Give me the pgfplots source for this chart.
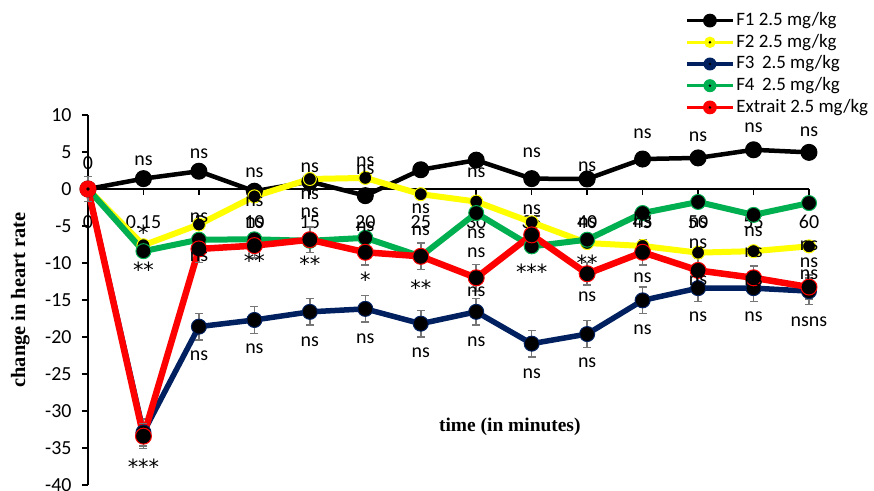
\documentclass[border=0pt]{standalone}
\usepackage{fontspec}
\setmainfont{Carlito}
\newfontfamily\tnr{Liberation Serif}
\newfontfamily\dvs{DejaVu Sans}
\usepackage{pgfplots}
\usepackage{pgfplotstable}
\pgfplotsset{compat=1.18}
\definecolor{cyel}{RGB}{255,255,0}
\definecolor{cnavy}{RGB}{0,32,96}
\definecolor{cgreen}{RGB}{0,176,80}
\definecolor{cred}{RGB}{255,0,0}
\definecolor{cerr}{RGB}{118,118,118}

\pgfdeclareplotmark{dotcircle}{%
  \pgfpathcircle{\pgfpointorigin}{\pgfplotmarksize}%
  \pgfusepathqfillstroke
  \pgfsetfillcolor{black}%
  \pgfpathcircle{\pgfpointorigin}{1.8bp}%
  \pgfusepathqfill
}

\pgfplotstableread{
x y e
0 0 1.7
1 1.4 0
2 2.4 0
3 -0.3 0
4 1.0 0
5 -0.9 0
6 2.6 0
7 3.9 0
8 1.4 0
9 1.35 0
10 4.05 0
11 4.2 0
12 5.3 0
13 4.95 0
}\fone

\pgfplotstableread{
x y
0 0
1 -7.6
2 -4.8
3 -1.0
4 1.35
5 1.5
6 -0.7
7 -1.7
8 -4.5
9 -7.3
10 -7.7
11 -8.6
12 -8.4
13 -7.75
}\ftwo

\pgfplotstableread{
x y e
0 0 1.7
1 -32.9 1.8
2 -18.6 1.8
3 -17.7 1.8
4 -16.6 1.8
5 -16.2 1.8
6 -18.2 1.8
7 -16.6 1.8
8 -20.9 1.8
9 -19.6 1.8
10 -15.05 1.8
11 -13.4 1.8
12 -13.4 1.8
13 -13.8 1.8
}\fthree

\pgfplotstableread{
x y
0 0
1 -8.4
2 -6.85
3 -6.8
4 -7.0
5 -6.6
6 -9.1
7 -3.25
8 -7.75
9 -6.85
10 -3.25
11 -1.75
12 -3.5
13 -1.9
}\ffour

\pgfplotstableread{
x y e
0 0 1.7
1 -33.4 1.7
2 -8.1 1.8
3 -7.65 1.7
4 -6.85 1.7
5 -8.55 1.7
6 -9.1 1.8
7 -12.0 1.8
8 -6.2 1.7
9 -11.45 1.5
10 -8.55 1.7
11 -11.0 1.6
12 -12.0 1.6
13 -13.25 1.6
}\fext

\pgfplotstableread{
x y lab
0 3.55 0
1 3.8 ns
2 4.8 ns
3 2.2 ns
3 -1.7 ns
3 -4.5 ns
4 2.9 ns
4 -0.8 ns
4 -3.2 ns
5 3.7 ns
5 2.6 ns
5 -5.1 ns
6 -2.7 ns
6 -5.6 ns
7 2.2 ns
7 -6.0 ns
7 -8.6 ns
7 -13.9 ns
8 4.9 ns
8 -2.8 ns
9 3.0 ns
9 -4.5 ns
9 -14.5 ns
10 7.5 ns
10 -3.8 ns
10 -4.5 ns
10 -12.0 ns
11 7.1 ns
11 -4.5 ns
11 -7.4 ns
11 -12.4 ns
12 8.3 ns
12 -5.8 ns
12 -8.6 ns
12 -12.4 ns
13 7.7 ns
13 -7.7 ns
13 -10.0 ns
13 -11.6 ns
2 -3.9 ns
2 -9.1 ns
2 -22.5 ns
3 -21.6 ns
4 -20.6 ns
5 -20.2 ns
6 -22.1 ns
7 -20.6 ns
8 -24.9 ns
9 -23.5 ns
10 -19.0 ns
11 -17.3 ns
12 -17.3 ns
13 -17.9 nsns
}\annot

\pgfplotstableread{
x y lab
1 -5.9 *
1 -10.9 **
3 -9.7 **
4 -10.1 **
5 -12.2 *
6 -13.3 **
8 -11.2 ***
9 -9.9 **
1 -37.5 ***
}\stars

\begin{document}
\begin{tikzpicture}
\useasboundingbox (-88bp,-6bp) rectangle (786bp,485bp);
\begin{axis}[
  scale only axis, width=721bp, height=370bp,
  xmin=0, xmax=13, ymin=-40, ymax=10,
  axis x line=middle, axis y line=left,
  axis line style={-, line width=2bp, black},
  hide obscured x ticks=false, hide obscured y ticks=false,
  tick align=outside, major tick length=6bp,
  tick style={line width=1.5bp, black},
  xtick={0,...,13},
  xticklabels={0,0.15,5,10,15,20,25,30,35,40,45,50,55,60},
  xticklabel style={anchor=center, yshift=-27bp, font=\fontsize{20}{23}\selectfont},
  ytick={-40,-35,...,10},
  yticklabel style={xshift=-7bp, font=\fontsize{20}{23}\selectfont},
  /pgf/number format/assume math mode=true,
  xlabel={time (in minutes)},
  xlabel style={at={(axis description cs:0.585,0.157)}, anchor=center, font=\tnr\bfseries\fontsize{19.5}{23}\selectfont},
  ylabel={change in heart rate},
  ylabel style={at={(axis description cs:-0.094,0.5)}, anchor=center, font=\tnr\bfseries\fontsize{20.5}{24}\selectfont},
  clip=false,
  legend style={at={(axis description cs:0.828,1.285)}, anchor=north west, draw=none, fill=none, inner sep=0pt,
    font=\fontsize{19}{22}\selectfont, legend cell align=left, row sep=0bp,
    nodes={inner sep=1.6bp, text height=14bp, text depth=4.5bp}},
  legend image code/.code={\draw[#1, line width=3.5bp, mark repeat=2, mark phase=2, every mark/.append style={scale=0.8}] plot coordinates {(0bp,0bp) (23bp,0bp) (46bp,0bp)};},
  every axis plot/.append style={line join=round},
  error bars/error bar style={line width=1.5bp, cerr},
  error bars/error mark options={rotate=90, mark size=4bp, line width=1.5bp, cerr},
]
\addplot[black, line width=4.5bp, mark=dotcircle, mark size=8bp, mark options={fill=black, draw=black, line width=1bp},
  error bars/.cd, y dir=both, y explicit] table[x=x, y=y, y error=e] {\fone};
\addlegendentry{F1 2.5 mg/kg}
\addplot[cyel, line width=6bp, mark=dotcircle, mark size=6.5bp, mark options={fill=cyel, draw=cyel, line width=1bp}] table[x=x, y=y] {\ftwo};
\addlegendentry{F2 2.5 mg/kg}
\addplot[cnavy, line width=5.5bp, mark=dotcircle, mark size=7.5bp, mark options={fill=cnavy, draw=cnavy, line width=1bp},
  error bars/.cd, y dir=both, y explicit] table[x=x, y=y, y error=e] {\fthree};
\addlegendentry{F3 \,2.5 mg/kg}
\addplot[cgreen, line width=6bp, mark=dotcircle, mark size=7.5bp, mark options={fill=cgreen, draw=cgreen, line width=1bp}] table[x=x, y=y] {\ffour};
\addlegendentry{F4 \,2.5 mg/kg}
\addplot[cred, line width=6.5bp, mark=dotcircle, mark size=8bp, mark options={fill=cred, draw=cred, line width=1bp},
  error bars/.cd, y dir=both, y explicit] table[x=x, y=y, y error=e] {\fext};
\addlegendentry{Extrait 2.5 mg/kg}
\addplot[only marks, mark=*, mark size=0pt, mark options={draw=none, fill=none},
  nodes near coords, point meta=explicit symbolic,
  every node near coord/.append style={anchor=center, inner sep=0pt, text=black, font=\fontsize{20}{23}\selectfont}]
  table[x=x, y=y, meta=lab] {\annot};
\addplot[only marks, mark=*, mark size=0pt, mark options={draw=none, fill=none},
  nodes near coords, point meta=explicit symbolic,
  every node near coord/.append style={anchor=center, inner sep=0pt, text=black, font=\dvs\fontsize{21}{24}\selectfont}]
  table[x=x, y=y, meta=lab] {\stars};
\end{axis}
\end{tikzpicture}
\end{document}
